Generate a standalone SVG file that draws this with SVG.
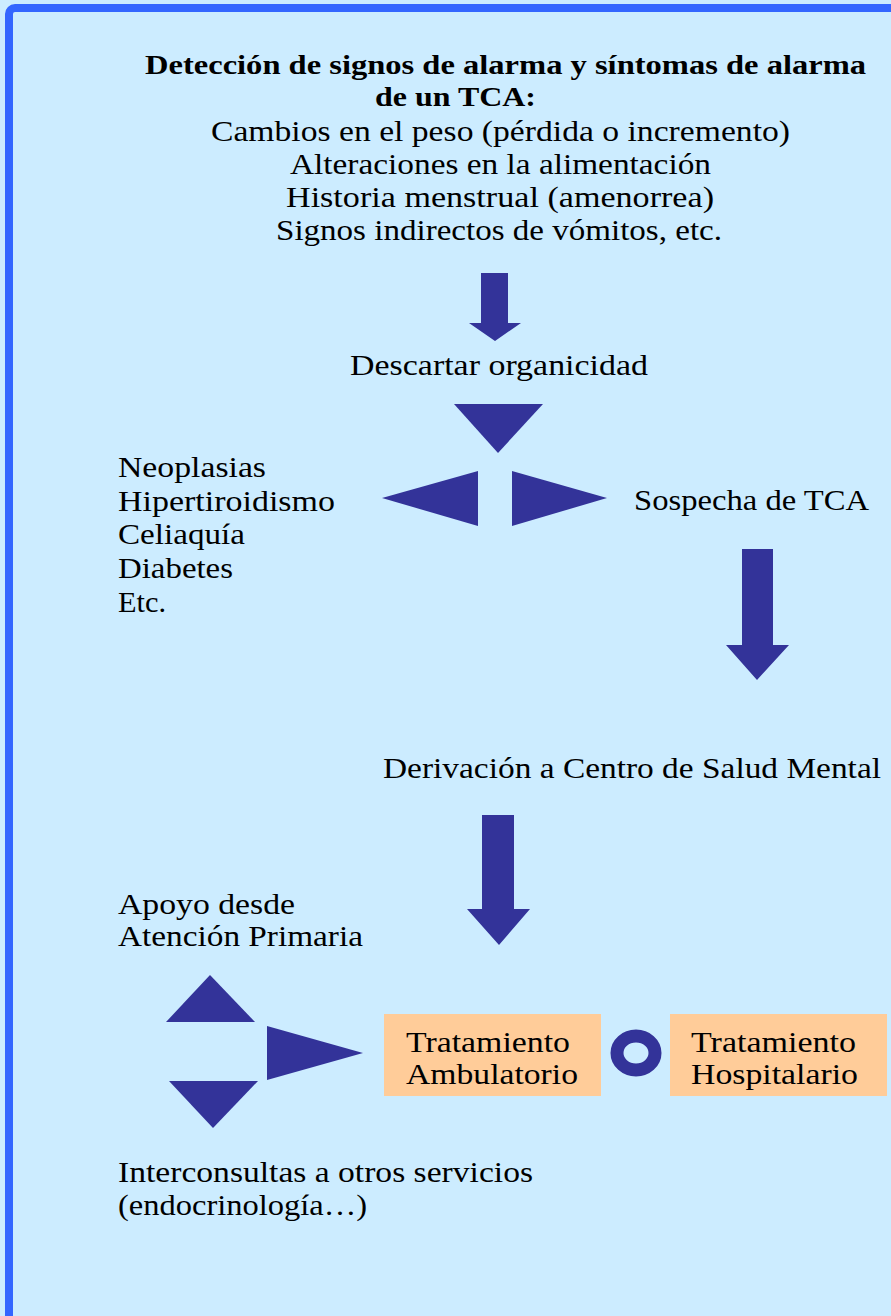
<svg xmlns="http://www.w3.org/2000/svg" width="891" height="1316" viewBox="0 0 891 1316">
<style>
.t{font-family:"Liberation Serif","Times New Roman",serif;font-size:29px;fill:#000}
.b{font-weight:bold;font-size:28px}
.a{fill:#333399}
.box{fill:#FFCC99}
</style>
<rect x="0" y="0" width="891" height="1316" fill="#CCECFF"/>
<rect x="9" y="8" width="900" height="1330" rx="6" fill="#CCECFF" stroke="#3366FF" stroke-width="8"/>
<g id="title">
<text class="t b" x="145" y="74" textLength="721" lengthAdjust="spacingAndGlyphs">Detección de signos de alarma y síntomas de alarma</text>
<text class="t b" x="375" y="106" textLength="161" lengthAdjust="spacingAndGlyphs">de un TCA:</text>
<text class="t" x="211" y="141" textLength="579" lengthAdjust="spacingAndGlyphs">Cambios en el peso (pérdida o incremento)</text>
<text class="t" x="290" y="174" textLength="421" lengthAdjust="spacingAndGlyphs">Alteraciones en la alimentación</text>
<text class="t" x="286" y="207" textLength="428" lengthAdjust="spacingAndGlyphs">Historia menstrual (amenorrea)</text>
<text class="t" x="276" y="240" textLength="446" lengthAdjust="spacingAndGlyphs">Signos indirectos de vómitos, etc.</text>
</g>
<g id="descartar">
<text class="t" x="350" y="375" textLength="298" lengthAdjust="spacingAndGlyphs">Descartar organicidad</text>
</g>
<g id="organicas">
<text class="t" x="118" y="477" textLength="148" lengthAdjust="spacingAndGlyphs">Neoplasias</text>
<text class="t" x="118" y="511" textLength="217" lengthAdjust="spacingAndGlyphs">Hipertiroidismo</text>
<text class="t" x="118" y="544" textLength="127" lengthAdjust="spacingAndGlyphs">Celiaquía</text>
<text class="t" x="118" y="578" textLength="115" lengthAdjust="spacingAndGlyphs">Diabetes</text>
<text class="t" x="118" y="612" textLength="48" lengthAdjust="spacingAndGlyphs">Etc.</text>
</g>
<g id="sospecha">
<text class="t" x="634" y="510" textLength="235" lengthAdjust="spacingAndGlyphs">Sospecha de TCA</text>
</g>
<g id="derivacion">
<text class="t" x="383" y="778" textLength="498" lengthAdjust="spacingAndGlyphs">Derivación a Centro de Salud Mental</text>
</g>
<g id="apoyo">
<text class="t" x="118" y="914" textLength="177" lengthAdjust="spacingAndGlyphs">Apoyo desde</text>
<text class="t" x="118" y="946" textLength="245" lengthAdjust="spacingAndGlyphs">Atención Primaria</text>
</g>
<g id="ambulatorio">
<rect class="box" x="384" y="1014" width="217" height="82"/>
<text class="t" x="406" y="1052" textLength="164" lengthAdjust="spacingAndGlyphs">Tratamiento</text>
<text class="t" x="406" y="1084" textLength="172" lengthAdjust="spacingAndGlyphs">Ambulatorio</text>
</g>
<g id="o">
<ellipse cx="636" cy="1053" rx="19" ry="17" fill="none" stroke="#333399" stroke-width="13"/>
</g>
<g id="hospitalario">
<rect class="box" x="670" y="1014" width="217" height="82"/>
<text class="t" x="691" y="1052" textLength="165" lengthAdjust="spacingAndGlyphs">Tratamiento</text>
<text class="t" x="691" y="1084" textLength="167" lengthAdjust="spacingAndGlyphs">Hospitalario</text>
</g>
<g id="interconsultas">
<text class="t" x="118" y="1182" textLength="415" lengthAdjust="spacingAndGlyphs">Interconsultas a otros servicios</text>
<text class="t" x="118" y="1215" textLength="249" lengthAdjust="spacingAndGlyphs">(endocrinología…)</text>
</g>
<g id="connectors">
<polygon class="a" points="481,273 508,273 508,323 521,323 495,341 469,323 481,323"/>
<polygon class="a" points="454,404 543,404 498,453"/>
<polygon class="a" points="478,471 478,526 382,498"/>
<polygon class="a" points="512,471 512,526 607,498"/>
<polygon class="a" points="742,549 773,549 773,645 789,645 757,680 726,645 742,645"/>
<polygon class="a" points="482,815 514,815 514,909 530,909 499,945 467,909 482,909"/>
<polygon class="a" points="166,1022 255,1022 210,975"/>
<polygon class="a" points="267,1026 267,1080 363,1053"/>
<polygon class="a" points="169,1081 258,1081 213,1128"/>
</g>
</svg>
